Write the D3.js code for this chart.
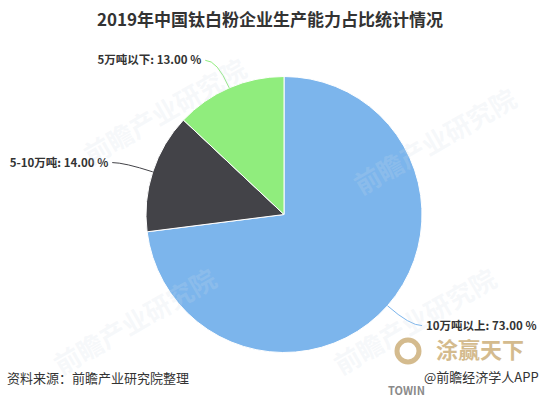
<!DOCTYPE html>
<html>
<head>
<meta charset="utf-8">
<script src="https://cdn.jsdelivr.net/npm/d3@7"></script>
<style>
  body { margin: 0; background: #fff; }
  text { font-family: "Noto Sans CJK SC", "Noto Sans", sans-serif; }
</style>
</head>
<body>
<script>
const width = 540
const height = 399

// datos
const categorias = ['10万吨以上', '5-10万吨', '5万吨以下']
const valores = [73.00, 14.00, 13.00]
const colores = ['#7cb5ec', '#434348', '#90ed7d']

const titulo = '2019年中国钛白粉企业生产能力占比统计情况'
const fuente = '资料来源：前瞻产业研究院整理'

const datos = categorias.map((c, i) => ({ nombre: c, valor: valores[i] }))

const cx = 284
const cy = 214.5
const radio = 138

const color = d3.scaleOrdinal().domain(categorias).range(colores)

const svg = d3.select('body').append('svg').attr('width', width).attr('height', height)

// titulo
svg.append('text')
  .attr('x', 270).attr('y', 26)
  .attr('text-anchor', 'middle')
  .attr('font-size', 17).attr('font-weight', 'bold')
  .style('fill', '#333')
  .text(titulo)

const pie = d3.pie().sort(null).value(d => d.valor)
const arco = d3.arc().innerRadius(0).outerRadius(radio)
const arcos = pie(datos)

const chart = svg.append('g').attr('transform', `translate(${[cx, cy]})`)

chart.selectAll('path.slice')
  .data(arcos)
  .join('path')
  .attr('class', 'slice')
  .attr('d', arco)
  .style('fill', d => color(d.data.nombre))
  .style('stroke', '#fff')
  .attr('stroke-width', 1)

// marca de agua (muy tenue)
const marca = svg.append('g').style('fill', '#cfdbe7').style('fill-opacity', 0.2)
  .attr('font-size', 26).attr('font-weight', 'bold')
;[[170, 120], [440, 150], [140, 330], [420, 330]].forEach(p => {
  marca.append('text')
    .attr('transform', `translate(${p}) rotate(-30)`)
    .attr('text-anchor', 'middle')
    .text('前瞻产业研究院')
})

// etiquetas con conector
const etiquetas = chart.selectAll('g.etq')
  .data(arcos)
  .join('g')
  .attr('class', 'etq')

etiquetas.each(function (d) {
  const a = (d.startAngle + d.endAngle) / 2
  const izq = Math.sin(a) < 0
  const borde = [Math.sin(a) * radio, -Math.cos(a) * radio]
  const fuera = [Math.sin(a) * (radio + 30), -Math.cos(a) * (radio + 30)]
  const fin = [fuera[0] + (izq ? -12 : 12), fuera[1]]
  const g = d3.select(this)
  g.append('path')
    .attr('d', `M${borde}Q${fuera} ${fin}`)
    .style('fill', 'none')
    .style('stroke', color(d.data.nombre))
    .attr('stroke-width', 1)
  g.append('text')
    .attr('x', fin[0] + (izq ? -4 : 4))
    .attr('y', fin[1])
    .attr('dy', '0.35em')
    .attr('text-anchor', izq ? 'end' : 'start')
    .attr('font-size', 11.5).attr('font-weight', 'bold')
    .style('fill', '#333')
    .text(`${d.data.nombre}: ${d3.format('.2f')(d.data.valor)} %`)
})

// fuente
svg.append('text')
  .attr('x', 7).attr('y', 383)
  .attr('font-size', 13)
  .style('fill', '#333')
  .text(fuente)

// logo inferior derecho
svg.append('circle')
  .attr('cx', 408).attr('cy', 351).attr('r', 11)
  .style('fill', 'none').style('stroke', '#d4bb8e').attr('stroke-width', 5)
svg.append('text')
  .attr('x', 480).attr('y', 358)
  .attr('text-anchor', 'middle')
  .attr('font-size', 22).attr('font-weight', 'bold')
  .style('fill', '#d4bb8e')
  .text('涂赢天下')
svg.append('text')
  .attr('x', 388).attr('y', 395)
  .attr('font-size', 11).attr('font-weight', 'bold')
  .style('fill', '#8a8a8a')
  .text('TOWIN')
svg.append('text')
  .attr('x', 424).attr('y', 382)
  .attr('font-size', 13)
  .style('fill', '#333')
  .text('@前瞻经济学人APP')
</script>
</body>
</html>
